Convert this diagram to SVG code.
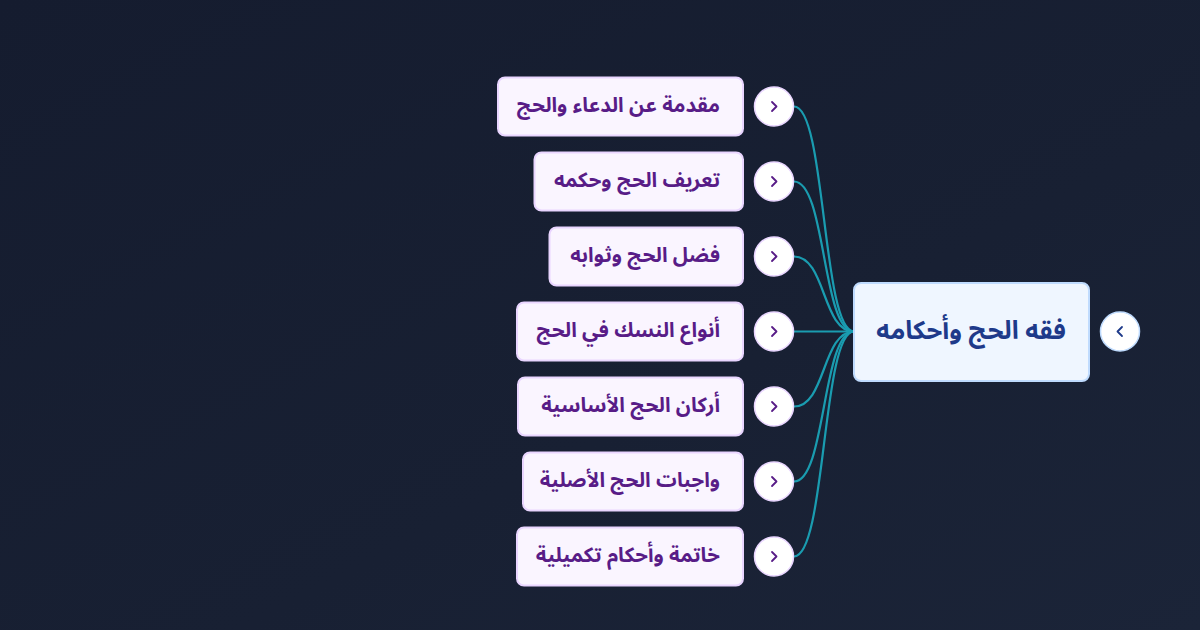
<svg xmlns="http://www.w3.org/2000/svg" width="1200" height="630" viewBox="0 0 1200 630">
<defs>
<linearGradient id="bg" x1="0" y1="0" x2="1" y2="1">
<stop offset="0" stop-color="#151c2f"/>
<stop offset="0.6" stop-color="#182033"/>
<stop offset="1" stop-color="#1b2438"/>
</linearGradient>
<style>
.child rect{fill:#faf5ff;stroke:#e9d5ff;stroke-width:2}
.child text{font-family:"Noto Sans Arabic","Noto Sans","DejaVu Sans",sans-serif;font-size:20.5px;font-weight:700;fill:#581c87;text-anchor:end}
.tog circle{fill:#ffffff;stroke:#e9d5ff;stroke-width:1.5}
.tog path{fill:none;stroke:#581c87;stroke-width:1.8;stroke-linecap:round;stroke-linejoin:round}
.conn path{fill:none;stroke:#1a9cb0;stroke-width:2.2}
.root rect{fill:#eff6ff;stroke:#bfdbfe;stroke-width:2}
.root text{font-family:"Noto Sans Arabic","Noto Sans","DejaVu Sans",sans-serif;font-size:25.5px;font-weight:700;fill:#1e3a8a;text-anchor:middle}
</style>
</defs>
<rect width="1200" height="630" fill="url(#bg)"/>
<g id="connectors" class="conn">
<path d="M794,106.5 C826,106.5 822,331.5 854,331.5"/>
<path d="M794,181.5 C826,181.5 822,331.5 854,331.5"/>
<path d="M794,256.5 C826,256.5 822,331.5 854,331.5"/>
<path d="M794,331.5 L854,331.5"/>
<path d="M794,406.5 C826,406.5 822,331.5 854,331.5"/>
<path d="M794,481.5 C826,481.5 822,331.5 854,331.5"/>
<path d="M794,556.5 C826,556.5 822,331.5 854,331.5"/>
</g>
<g id="root" class="root">
<rect x="854" y="283" width="235" height="98" rx="7"/>
<text x="971" y="339">فقه الحج وأحكامه</text>
</g>
<g id="root-toggle" class="tog">
<circle cx="1120" cy="331.5" r="19.5" style="stroke:#bfdbfe"/>
<path d="M1122,327 L1117.5,331.5 L1122,336" style="stroke:#1e3a8a"/>
</g>
<g id="n1" class="child">
<rect x="498" y="77.5" width="245" height="58" rx="7"/>
<text x="720" y="112">مقدمة عن الدعاء والحج</text>
</g>
<g id="n2" class="child">
<rect x="534.5" y="152.5" width="208.5" height="58" rx="7"/>
<text x="720" y="187">تعريف الحج وحكمه</text>
</g>
<g id="n3" class="child">
<rect x="549.5" y="227.5" width="193.5" height="58" rx="7"/>
<text x="720" y="262">فضل الحج وثوابه</text>
</g>
<g id="n4" class="child">
<rect x="517" y="302.5" width="226" height="58" rx="7"/>
<text x="720" y="337">أنواع النسك في الحج</text>
</g>
<g id="n5" class="child">
<rect x="518" y="377.5" width="225" height="58" rx="7"/>
<text x="720" y="412">أركان الحج الأساسية</text>
</g>
<g id="n6" class="child">
<rect x="523" y="452.5" width="220" height="58" rx="7"/>
<text x="720" y="487">واجبات الحج الأصلية</text>
</g>
<g id="n7" class="child">
<rect x="517" y="527.5" width="226" height="58" rx="7"/>
<text x="720" y="562">خاتمة وأحكام تكميلية</text>
</g>
<g id="toggles" class="tog">
<circle cx="774" cy="106.5" r="19.5"/><path d="M772,102 L776.5,106.5 L772,111"/>
<circle cx="774" cy="181.5" r="19.5"/><path d="M772,177 L776.5,181.5 L772,186"/>
<circle cx="774" cy="256.5" r="19.5"/><path d="M772,252 L776.5,256.5 L772,261"/>
<circle cx="774" cy="331.5" r="19.5"/><path d="M772,327 L776.5,331.5 L772,336"/>
<circle cx="774" cy="406.5" r="19.5"/><path d="M772,402 L776.5,406.5 L772,411"/>
<circle cx="774" cy="481.5" r="19.5"/><path d="M772,477 L776.5,481.5 L772,486"/>
<circle cx="774" cy="556.5" r="19.5"/><path d="M772,552 L776.5,556.5 L772,561"/>
</g>
</svg>
